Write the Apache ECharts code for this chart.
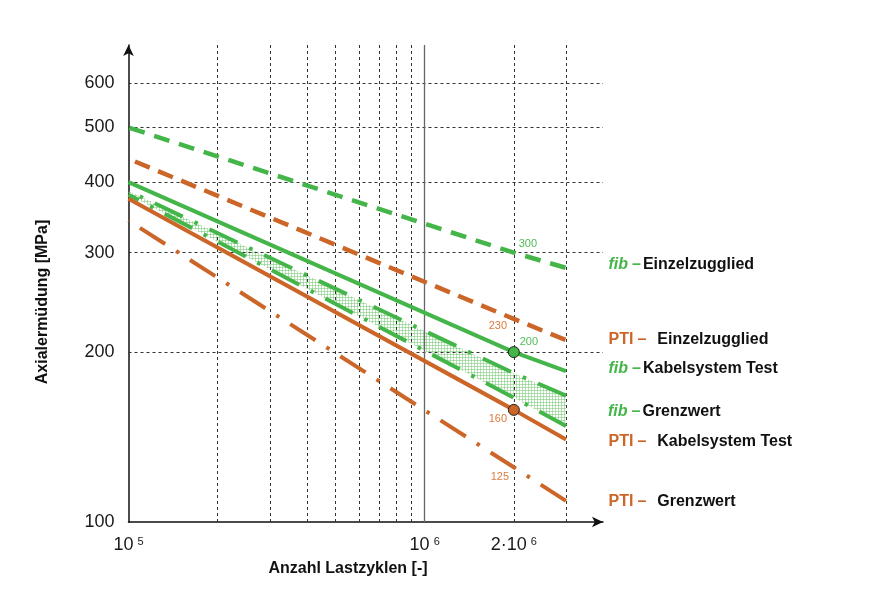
<!DOCTYPE html>
<html><head><meta charset="utf-8">
<script src="https://cdn.jsdelivr.net/npm/echarts@6/dist/echarts.min.js"></script>
<style>html,body{margin:0;padding:0;background:#fff}#c{width:879px;height:595px}</style>
</head><body><div id="c"></div>
<script>
// ---------- data ----------
const cycles = [1e5, 2e6, 3e6];
const fibEinzel     = [500, 300, 282];
const ptiEinzel     = [440, 229, 210];
const fibKabel      = [400, 200, 185];
const fibGrenzOben  = [386, 183.5, 167.5];
const fibGrenzUnten = [380, 166, 148];
const ptiKabel      = [374, 158, 140];
const ptiGrenz      = [342, 125, 109];

const yTicks = [100, 200, 300, 400, 500, 600];
const xTickVals = [1e5, 1e6, 2e6];
const xTickBase = ['10', '10', '2·10'];
const xTickExp = ['5', '6', '6'];
const xGridDashed = [2e5, 3e5, 4e5, 5e5, 6e5, 7e5, 8e5, 9e5, 2e6, 3e6];
const xGridSolid = [1e6];

const valueLabelTexts = ['300', '230', '200', '160', '125'];

const legendPrefix = ['fib', 'PTI', 'fib', 'fib', 'PTI', 'PTI'];
const legendNames = ['Einzelzugglied', 'Einzelzugglied', 'Kabelsystem Test', 'Grenzwert', 'Kabelsystem Test', 'Grenzwert'];

// ---------- styles ----------
const FONT = '"Liberation Sans", Arial, sans-serif';
const GREEN = '#43b549';
const ORANGE = '#cc6628';
const GREEN_T = '#4fba55';
const ORANGE_T = '#de7a3c';

const pts = vals => cycles.map((c, i) => [c, vals[i]]);

function lineSeries(name, vals, color, dash, width, dashOffset) {
  return {
    type: 'line', name, data: pts(vals), symbol: 'none', z: 5,
    lineStyle: { color, width, type: dash, cap: 'butt', dashOffset: dashOffset || 0 },
    silent: true, animation: false
  };
}

const legendRich = {
  f: { fontFamily: FONT, fontSize: 16, fontStyle: 'italic', fontWeight: 'bold', color: GREEN },
  fd: { fontFamily: FONT, fontSize: 16, fontWeight: 'bold', color: GREEN, padding: [0, 2, 0, 4] },
  p: { fontFamily: FONT, fontSize: 16, fontWeight: 'bold', color: ORANGE },
  pd: { fontFamily: FONT, fontSize: 16, fontWeight: 'bold', color: ORANGE, padding: [0, 11, 0, 4] },
  t: { fontFamily: FONT, fontSize: 16, fontWeight: 'bold', color: '#111' }
};
// same rich styles for raw zrender text (uses "fill" instead of "color")
const legendRichZr = {};
Object.keys(legendRich).forEach(k => {
  const s = Object.assign({}, legendRich[k]);
  s.fill = s.color; delete s.color;
  legendRichZr[k] = s;
});
function legendText(i) {
  if (legendPrefix[i] === 'fib') return '{f|fib}{fd|–}{t|' + legendNames[i] + '}';
  return '{p|PTI}{pd|–}{t|' + legendNames[i] + '}';
}

// hatch pattern
const pc = document.createElement('canvas');
pc.width = 3; pc.height = 3;
const pctx = pc.getContext('2d');
pctx.fillStyle = 'rgba(120,200,120,0.55)';
pctx.fillRect(0, 0, 3, 1);
pctx.fillRect(0, 0, 1, 3);

const chart = echarts.init(document.getElementById('c'), null, { renderer: 'canvas' });

const endSeries = [
  { vals: fibEinzel, idx: 0, dy: -3 },
  { vals: ptiEinzel, idx: 1, dy: -1 },
  { vals: fibKabel, idx: 2, dy: -3 },
  { vals: ptiKabel, idx: 4, dy: 2 },
  { vals: ptiGrenz, idx: 5, dy: 1 }
];

const valueLabels = [
  { vals: fibEinzel, color: GREEN_T, off: [14, -9] },
  { vals: ptiEinzel, color: ORANGE_T, off: [-16, 7] },
  { vals: fibKabel, color: GREEN_T, off: [15, -10] },
  { vals: ptiKabel, color: ORANGE_T, off: [-16, 9] },
  { vals: ptiGrenz, color: ORANGE_T, off: [-14, 10] }
];

const option = {
  backgroundColor: '#fff',
  animation: false,
  grid: { left: 128.5, right: 276, top: 45, bottom: 73, containLabel: false },
  xAxis: {
    type: 'log', min: 1e5, max: 4e6, logBase: 10,
    axisLine: { show: true, lineStyle: { color: '#111', width: 1.5 }, symbol: ['none', 'arrow'], symbolSize: [8, 11] },
    axisTick: { show: false }, axisLabel: { show: false }, splitLine: { show: false }
  },
  yAxis: {
    type: 'log', min: 100, max: 700, logBase: 10,
    axisLine: { show: true, lineStyle: { color: '#111', width: 1.5 }, symbol: ['none', 'arrow'], symbolSize: [8, 11] },
    axisTick: { show: false }, axisLabel: { show: false }, splitLine: { show: false }
  },
  graphic: [
    { type: 'text', x: 43, y: 302, rotation: Math.PI / 2,
      style: { text: 'Axialermüdung [MPa]', font: 'bold 16px ' + FONT, fill: '#111', align: 'center', verticalAlign: 'middle' } },
    { type: 'text', x: 348, y: 569,
      style: { text: 'Anzahl Lastzyklen [-]', font: 'bold 16px ' + FONT, fill: '#111', align: 'center', verticalAlign: 'middle' } }
  ],
  series: [
    // grid lines
    {
      type: 'scatter', data: [[1e5, 100]], symbolSize: 0, z: 1, silent: true,
      markLine: {
        silent: true, symbol: 'none', animation: false,
        lineStyle: { color: '#333', width: 1, type: [3, 3] },
        label: { show: false },
        data: xGridDashed.map(v => ({ xAxis: v }))
          .concat(yTicks.slice(1).map(v => ({ yAxis: v })))
          .concat(xGridSolid.map(v => ({ xAxis: v, lineStyle: { type: 'solid', color: '#666', width: 1.3 } })))
      }
    },
    // tick labels
    {
      type: 'scatter', data: [[1e5, 100]], symbolSize: 0, z: 1, silent: true,
      markLine: {
        silent: true, symbol: 'none', animation: false,
        lineStyle: { color: 'transparent', width: 0.1 },
        data: yTicks.map(v => ({
          yAxis: v,
          label: { show: true, position: 'start', distance: 14, formatter: String(v),
                   fontFamily: FONT, fontSize: 18, color: '#1a1a1a' }
        })).concat(xTickVals.map((v, i) => ({
          xAxis: v,
          label: { show: true, position: 'start', distance: 14,
                   formatter: '{a|' + xTickBase[i] + '}{s|' + xTickExp[i] + '}',
                   rich: {
                     a: { fontFamily: FONT, fontSize: 18, color: '#1a1a1a' },
                     s: { fontFamily: FONT, fontSize: 11, color: '#1a1a1a', padding: [0, 0, 8, 4] }
                   } }
        })))
      }
    },
    // band fib Grenzwert
    {
      type: 'custom', z: 3, silent: true,
      data: cycles.map((c, i) => [c, fibGrenzOben[i], fibGrenzUnten[i]]),
      encode: { x: 0, y: [1, 2] },
      renderItem: function (params, api) {
        if (params.dataIndex !== 0) return null;
        const top = cycles.map((c, i) => api.coord([c, fibGrenzOben[i]]));
        const bot = cycles.map((c, i) => api.coord([c, fibGrenzUnten[i]])).reverse();
        const n = cycles.length - 1;
        const eA = api.coord([cycles[n], fibGrenzOben[n]]);
        const eB = api.coord([cycles[n], fibGrenzUnten[n]]);
        return {
          type: 'group',
          children: [
            { type: 'polygon', shape: { points: top.concat(bot) },
              style: { fill: { image: pc, repeat: 'repeat' }, stroke: null } },
            { type: 'text', x: eA[0] + 42, y: (eA[1] + eB[1]) / 2 + 1,
              style: { text: legendText(3), rich: legendRichZr, verticalAlign: 'middle', align: 'left' } }
          ]
        };
      }
    },
    lineSeries('fib – Einzelzugglied', fibEinzel, GREEN, [16, 10], 4.5, 25),
    lineSeries('PTI – Einzelzugglied', ptiEinzel, ORANGE, [16, 9], 4.5, 18),
    lineSeries('fib – Kabelsystem Test', fibKabel, GREEN, 'solid', 4),
    lineSeries('fib – Grenzwert oben', fibGrenzOben, GREEN, [31, 13, 3.5, 13], 4, 31.5),
    lineSeries('fib – Grenzwert unten', fibGrenzUnten, GREEN, [31, 13, 3.5, 13], 4, 19.5),
    lineSeries('PTI – Kabelsystem Test', ptiKabel, ORANGE, 'solid', 4),
    lineSeries('PTI – Grenzwert', ptiGrenz, ORANGE, [30, 13, 3.5, 13], 4, 46),
    // markers at 2e6
    {
      type: 'scatter', z: 8, silent: true, symbol: 'circle', symbolSize: 11,
      data: [
        { value: [cycles[1], fibKabel[1]], itemStyle: { color: GREEN, borderColor: '#222', borderWidth: 1, opacity: 1 } },
        { value: [cycles[1], ptiKabel[1]], itemStyle: { color: ORANGE, borderColor: '#222', borderWidth: 1, opacity: 1 } }
      ]
    },
    // value labels
    {
      type: 'scatter', z: 9, silent: true, symbolSize: 1, itemStyle: { color: 'transparent', opacity: 1 },
      data: valueLabels.map((l, i) => ({
        value: [cycles[1], l.vals[1]],
        label: { show: true, position: 'inside', offset: l.off, formatter: valueLabelTexts[i],
                 fontFamily: FONT, fontSize: 11, color: l.color }
      }))
    },
    // end labels (legend text)
    {
      type: 'scatter', z: 9, silent: true, symbolSize: 1, itemStyle: { color: 'transparent', opacity: 1 },
      data: endSeries.map(e => ({
        value: [cycles[cycles.length - 1], e.vals[e.vals.length - 1]],
        label: { show: true, position: 'right', distance: 42, offset: [0, e.dy],
                 formatter: legendText(e.idx), rich: legendRich }
      }))
    }
  ]
};
chart.setOption(option);
</script>
</body></html>
